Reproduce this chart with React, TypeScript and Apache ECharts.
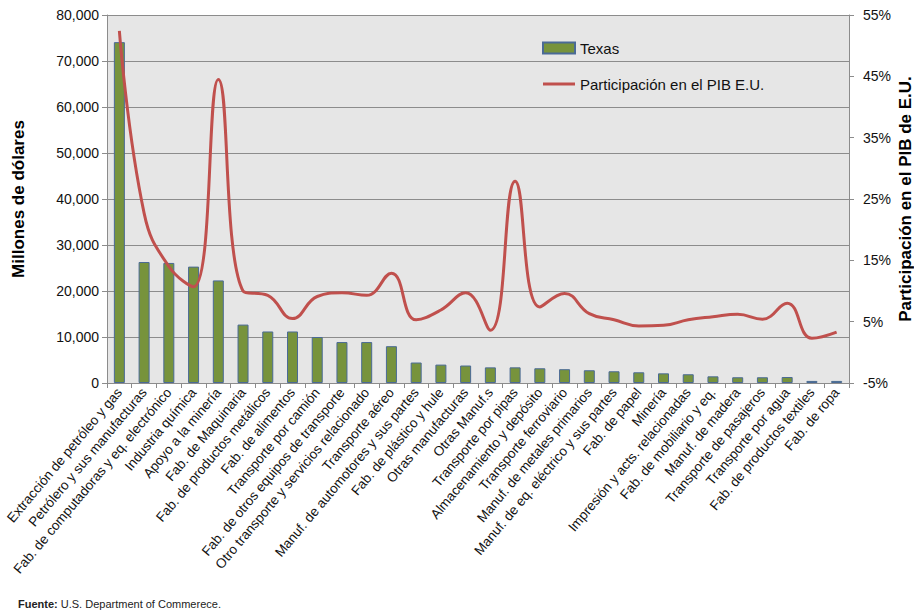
import React, { useEffect, useRef } from "react";
import * as echarts from "echarts";

const categories = [
  "Extracción de petróleo y gas",
  "Petrólero y sus manufacturas",
  "Fab. de computadoras y eq. electrónico",
  "Industria química",
  "Apoyo a la minería",
  "Fab. de Maquinaria",
  "Fab. de productos metálicos",
  "Fab. de alimentos",
  "Transporte por camión",
  "Fab. de otros equipos de transporte",
  "Otro transporte y servicios relacionado",
  "Transporte aéreo",
  "Manuf. de automotores y sus partes",
  "Fab. de plástico y hule",
  "Otras manufacturas",
  "Otras Manuf.s",
  "Transporte por pipas",
  "Almacenamiento y depósito",
  "Transporte ferroviario",
  "Manuf. de metales primarios",
  "Manuf. de eq. eléctrico y sus partes",
  "Fab. de papel",
  "Minería",
  "Impresión y acts. relacionadas",
  "Fab. de mobiliario y eq.",
  "Manuf. de madera",
  "Transporte de pasajeros",
  "Transporte por agua",
  "Fab. de productos textiles",
  "Fab. de ropa",
];

const texasValues = [
  74100, 26300, 26100, 25300, 22300, 12700, 11200, 11200, 10000, 8900,
  8900, 8000, 4450, 4000, 3800, 3400, 3400, 3200, 3000, 2770,
  2550, 2330, 2100, 1900, 1450, 1250, 1250, 1300, 450, 450,
];

const shareValues = [
  52.4, 22.7, 14.0, 10.7, 44.5, 10.0, 9.3, 5.5, 9.1, 9.7,
  9.3, 12.9, 5.3, 6.9, 9.7, 3.6, 27.9, 7.4, 9.6, 6.3,
  5.3, 4.3, 4.4, 5.3, 5.8, 6.2, 5.4, 8.0, 2.3, 3.3,
];

const leftTicks = { min: 0, max: 80000, interval: 10000 };
const rightTicks = { min: -5, max: 55, interval: 10 };

const seriesNames = ["Texas", "Participación en el PIB E.U."];
const leftTitle = "Millones de dólares";
const rightTitle = "Participación en el PIB de E.U.";

const FONT = "'Liberation Sans', Arial, sans-serif";

export default function App() {
  const ref = useRef<HTMLDivElement>(null);

  useEffect(() => {
    if (!ref.current) return;
    const chart = echarts.init(ref.current, undefined, { renderer: "svg" });
    const gray = "#8c8c8c";
    chart.setOption({
      animation: false,
      backgroundColor: "#ffffff",
      textStyle: { fontFamily: FONT },
      grid: {
        left: 107,
        right: 65,
        top: 15,
        bottom: 232,
        containLabel: false,
        outerBoundsMode: "none",
        show: true,
        backgroundColor: "#e6e6e6",
        borderWidth: 0,
      },
      legend: {
        orient: "vertical",
        left: 542,
        top: 38,
        padding: 0,
        itemWidth: 32,
        itemHeight: 11,
        itemGap: 16,
        textStyle: { fontSize: 15, color: "#111", fontFamily: FONT, lineHeight: 20 },
        data: [
          { name: seriesNames[0], icon: "rect" },
          { name: seriesNames[1], icon: "path://M0,0 H32 V3 H0 Z" },
        ],
      },
      xAxis: {
        type: "category",
        data: categories,
        boundaryGap: true,
        axisLine: { show: true, lineStyle: { color: gray, width: 1 } },
        axisTick: { show: true, alignWithLabel: false, length: 5, lineStyle: { color: gray } },
        axisLabel: {
          rotate: 50,
          interval: 0,
          margin: 7,
          fontSize: 13.5,
          color: "#111",
          fontFamily: FONT,
        },
        splitLine: { show: false },
      },
      yAxis: [
        {
          type: "value",
          min: leftTicks.min,
          max: leftTicks.max,
          interval: leftTicks.interval,
          name: leftTitle,
          nameLocation: "middle",
          nameRotate: 90,
          nameGap: 80,
          nameMoveOverlap: false,
          nameTextStyle: { fontSize: 17, fontWeight: "bold", color: "#000", fontFamily: FONT },
          axisLine: { show: true, lineStyle: { color: gray } },
          axisTick: { show: true, inside: false, length: 5, lineStyle: { color: gray } },
          axisLabel: {
            margin: 8,
            fontSize: 14,
            color: "#111",
            fontFamily: FONT,
            formatter: (v: number) => v.toLocaleString("en-US"),
          },
          splitLine: { show: true, lineStyle: { color: gray, width: 1 } },
        },
        {
          type: "value",
          position: "right",
          min: rightTicks.min,
          max: rightTicks.max,
          interval: rightTicks.interval,
          name: rightTitle,
          nameLocation: "middle",
          nameRotate: 90,
          nameGap: 48,
          nameMoveOverlap: false,
          nameTextStyle: { fontSize: 17, fontWeight: "bold", color: "#000", fontFamily: FONT },
          axisLine: { show: true, lineStyle: { color: gray } },
          axisTick: { show: true, inside: false, length: 5, lineStyle: { color: gray } },
          axisLabel: {
            margin: 14,
            fontSize: 14,
            color: "#111",
            fontFamily: FONT,
            formatter: (v: number) => `${v}%`,
          },
          splitLine: { show: false },
        },
      ],
      series: [
        {
          name: seriesNames[0],
          type: "bar",
          yAxisIndex: 0,
          data: texasValues,
          barWidth: 11,
          itemStyle: { color: "#77933c", borderColor: "#4a6a96", borderWidth: 1 },
        },
        {
          name: seriesNames[1],
          type: "line",
          yAxisIndex: 1,
          data: shareValues,
          smooth: 0.45,
          symbol: "none",
          lineStyle: { color: "#c0504d", width: 3 },
          itemStyle: { color: "#c0504d" },
        },
      ],
      graphic: [
        {
          type: "text",
          left: 18,
          top: 598,
          style: {
            text: "{b|Fuente:} U.S. Department of Commerece.",
            fontSize: 11,
            fill: "#222",
            fontFamily: FONT,
            rich: {
              b: { fontWeight: "bold", fontSize: 11, fill: "#222", fontFamily: FONT },
            },
          },
        },
      ],
    });
    return () => chart.dispose();
  }, []);

  return (
    <div
      ref={ref}
      style={{ position: "absolute", left: 0, top: 0, width: 914, height: 615 }}
    />
  );
}
